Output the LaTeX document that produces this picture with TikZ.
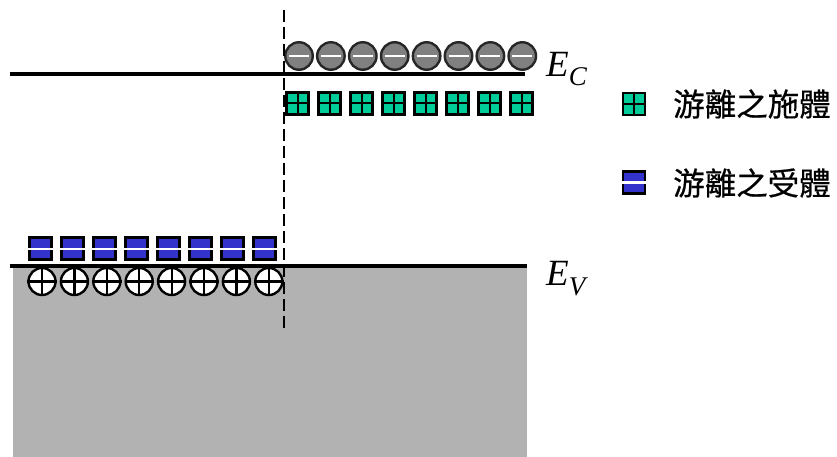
\documentclass[tikz,border=0pt]{standalone}
\usepackage{fontspec}
\setmainfont{Liberation Serif}
\newfontfamily\cjk[FakeBold=0.6]{Noto Sans CJK TC}
\definecolor{bandgray}{RGB}{178,178,178}
\definecolor{elecgray}{RGB}{128,128,128}
\definecolor{donorgreen}{RGB}{0,204,153}
\definecolor{acceptblue}{RGB}{51,51,204}
\tikzset{
  bandline/.style={line width=4pt},
  electron/.style={circle, draw=black!85, fill=elecgray, line width=2.4pt, minimum size=27.5pt, inner sep=0pt},
  hole/.style={circle, draw=black, fill=white, line width=2.4pt, minimum size=27pt, inner sep=0pt},
  donor/.style={rectangle, draw=black, fill=donorgreen, line width=2.6pt, minimum size=22pt, inner sep=0pt},
  acceptor/.style={rectangle, draw=black, fill=acceptblue, line width=2.6pt, minimum size=22pt, inner sep=0pt},
  junction/.style={line width=2.5pt, dash pattern=on 12pt off 5pt},
  bandlabel/.style={anchor=base west, inner sep=0pt, font=\fontsize{37}{37}\selectfont\itshape},
  legendtext/.style={anchor=west, inner sep=0pt, font=\cjk\fontsize{31.5}{31.5}\selectfont},
}
\begin{document}
\begin{tikzpicture}[x=1pt,y=-1pt]
\useasboundingbox (0,0) rectangle (837,457);
% valence band fill
\fill[bandgray] (13,266) rectangle (527,457);
% holes
\foreach \i in {0,...,7}{
  \node[hole] (h\i) at ({42+32.4*\i},281.5) {};
  \draw[line width=2.2pt] (h\i.north) -- (h\i.south) (h\i.west) -- (h\i.east);
}
% band edges
\coordinate (ecl) at (10,74.5);
\coordinate (ecr) at (525,74.5);
\coordinate (evl) at (10,266);
\coordinate (evr) at (527,266);
\draw[bandline] (ecl) -- (ecr);
\draw[bandline] (evl) -- (evr);
% electrons
\foreach \i in {0,...,7}{
  \node[electron] (e\i) at ({299+31.9*\i},56) {};
  \draw[white, line width=2.4pt] ([xshift=-10pt]e\i.center) -- ([xshift=10pt]e\i.center);
}
% ionized donors
\foreach \i in {0,...,7}{
  \node[donor] (d\i) at ({297.5+32*\i},103.5) {};
  \draw[line width=2pt] (d\i.north) -- (d\i.south) (d\i.west) -- (d\i.east);
}
% ionized acceptors
\foreach \i in {0,...,7}{
  \node[acceptor] (a\i) at ({40.5+32*\i},248.5) {};
  \draw[white, line width=2pt] (a\i.west) -- (a\i.east);
}
% junction
\coordinate (jt) at (284,10);
\coordinate (jb) at (284,328);
\draw[junction] (jt) -- (jb);
% labels
\node[bandlabel] (ec) at (546,77) {E\raisebox{-9pt}{\fontsize{27}{27}\selectfont C}};
\node[bandlabel] (ev) at (546,285) {E\raisebox{-10pt}{\fontsize{27}{27}\selectfont V}};
% legend
\node[donor] (ld) at (634,104) {};
\draw[line width=2pt] (ld.north) -- (ld.south) (ld.west) -- (ld.east);
\node[legendtext] (ldt) at (673,104) {游離之施體};
\node[acceptor] (la) at (634,182.5) {};
\draw[white, line width=2pt] (la.west) -- (la.east);
\node[legendtext] (lat) at (673,183) {游離之受體};
\end{tikzpicture}
\end{document}
